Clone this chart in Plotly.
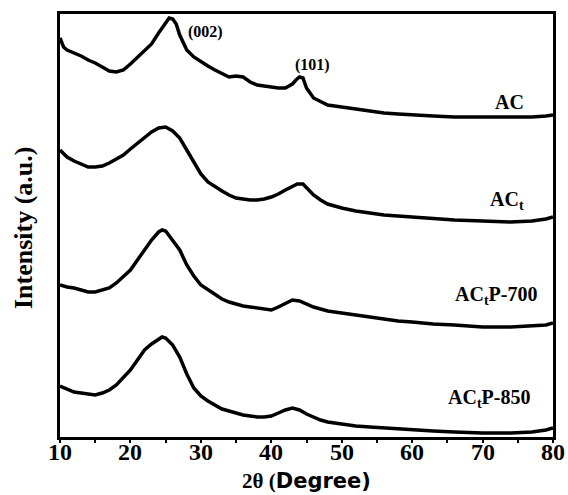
import plotly.graph_objects as go

# 2-theta (degree) sample positions and intensities (a.u., stacked offsets)
x_ac = [10, 10.5, 11, 12, 13, 14, 15, 16, 17, 18, 19, 20, 21, 22, 23, 24, 24.5, 25, 25.5, 26,
        26.5, 27, 28, 29, 30, 31, 32, 33, 34, 35, 36, 37, 38, 39, 40, 41, 42, 43, 43.5, 44,
        44.5, 45, 46, 47, 48, 50, 52, 54, 56, 58, 60, 63, 66, 70, 74, 77, 79, 80]
y_ac = [399, 390, 387, 384, 381, 377, 374, 370, 366, 365, 367, 373, 380, 387, 393, 404, 409, 415, 419, 418,
        413, 402, 387, 380, 375, 371, 367, 363, 360, 361, 360, 355, 352, 351, 350, 349, 349, 353, 357, 360,
        359, 349, 339, 335, 332, 330, 328, 326, 324, 323, 322, 321, 320, 320, 320, 320, 321, 322]

x_act = [10, 11, 12, 13, 14, 15, 16, 17, 18, 19, 20, 21, 22, 23, 24, 25, 26, 27, 28, 29,
         30, 31, 32, 33, 34, 35, 36, 37, 38, 39, 40, 41, 42, 43, 43.7, 44.5, 45, 46, 47, 48,
         50, 52, 54, 56, 58, 60, 63, 66, 70, 74, 77, 79, 80]
y_act = [287, 280, 276, 273, 270, 270, 271, 274, 278, 282, 288, 294, 300, 305, 309, 310, 306, 299, 287, 275,
         263, 255, 250, 246, 242, 239, 238, 237, 237, 238, 240, 243, 247, 251, 253, 253, 249, 242, 237, 233,
         229, 226, 224, 222, 221, 220, 218, 217, 216, 215, 216, 218, 220]

x_p = [10, 11, 12, 13, 14, 15, 16, 17, 18, 19, 20, 21, 22, 23, 24, 24.5, 25, 26, 27, 28,
       29, 30, 31, 32, 33, 34, 35, 36, 37, 38, 39, 40, 41, 42, 43, 44, 45, 46, 47, 48,
       50, 52, 54, 56, 58, 60, 63, 66, 70, 74, 77, 79, 80]
y_p700 = [152, 150, 149, 147, 145, 145, 147, 149, 154, 160, 167, 177, 187, 197, 205, 207, 206, 197, 187, 172,
          161, 152, 147, 142, 138, 135, 133, 131, 130, 129, 128, 127, 130, 134, 137, 136, 133, 130, 128, 126,
          124, 122, 120, 118, 116, 115, 113, 112, 110, 110, 111, 112, 114]
y_p850 = [51, 48, 45, 44, 43, 42, 44, 47, 52, 59, 67, 77, 87, 93, 98, 100, 99, 92, 80, 63,
          49, 41, 36, 32, 28, 26, 24, 22, 21, 20, 20, 21, 24, 27, 29, 27, 23, 20, 17, 15,
          13, 11, 10, 9, 8, 7, 6, 5, 4, 4, 5, 7, 9]

series_names = ["AC", "AC<sub>t</sub>", "AC<sub>t</sub>P-700", "AC<sub>t</sub>P-850"]
label_x = [73.8, 73.4, 71.9, 70.9]
label_y = [335, 237, 142, 39]
peak_labels = ["(002)", "(101)"]
peak_x = [30.7, 45.9]
peak_y = [405, 372]
x_ticks = [10, 20, 30, 40, 50, 60, 70, 80]
x_range = [10, 80]

SERIF = "'Liberation Serif', 'Times New Roman', Times, serif"
SANS = "DejaVu Sans, sans-serif"
fig = go.Figure()
for xs, ys in [(x_ac, y_ac), (x_act, y_act), (x_p, y_p700), (x_p, y_p850)]:
    fig.add_trace(go.Scatter(x=xs, y=ys, mode="lines",
                             line=dict(color="black", width=3.5), showlegend=False))

for name, lx, ly in zip(series_names, label_x, label_y):
    fig.add_annotation(x=lx, y=ly, text=name, showarrow=False,
                       font=dict(family=SERIF, size=20, color="black", weight="bold"))
for name, lx, ly in zip(peak_labels, peak_x, peak_y):
    fig.add_annotation(x=lx, y=ly, text=name, showarrow=False,
                       font=dict(family=SERIF, size=16, color="black", weight="bold"))

# x tick labels placed through the x scale, sitting closer to the axis than Plotly's default
for t in x_ticks:
    fig.add_annotation(x=t, xref="x", y=0, yref="paper", yanchor="middle", xanchor="center",
                       yshift=-15, text=str(t), showarrow=False,
                       font=dict(family=SERIF, size=24, color="black", weight="bold"))

fig.add_annotation(xref="paper", yref="paper", x=-0.075, y=0.494, textangle=-90,
                   xanchor="center", yanchor="middle",
                   text="Intensity (a.u.)", showarrow=False,
                   font=dict(family=SERIF, size=26, color="black", weight="bold"))
fig.add_annotation(xref="paper", yref="paper", x=0.501, y=-0.104, xanchor="center", yanchor="middle",
                   text="2θ (<span style=\"font-family:" + SANS + "\">Degree)</span>",
                   showarrow=False,
                   font=dict(family=SERIF, size=21, color="black", weight="bold"))

fig.update_layout(
    width=568, height=495,
    margin=dict(l=60, r=15, t=14, b=58),
    paper_bgcolor="white", plot_bgcolor="white",
    xaxis=dict(range=x_range, tickvals=x_ticks, showline=True, linewidth=3, linecolor="black",
               mirror=True, ticks="", showticklabels=False,
               minor=dict(dtick=5, tick0=10, ticks="outside", ticklen=3, tickwidth=2, tickcolor="black"),
               showgrid=False, zeroline=False),
    yaxis=dict(range=[0, 423], showline=True, linewidth=3, linecolor="black", mirror=True,
               showticklabels=False, ticks="", showgrid=False, zeroline=False),
)
fig.write_html("out.html")
